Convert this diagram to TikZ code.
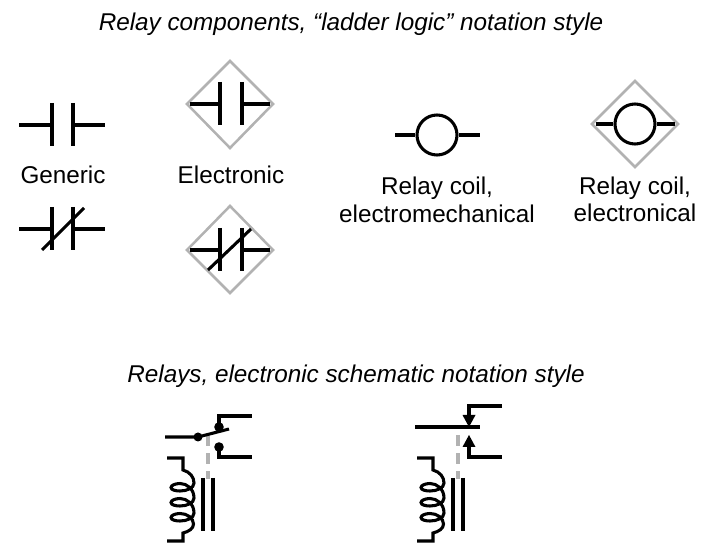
\documentclass[tikz,border=0pt]{standalone}
\usepackage{fontspec}
\setmainfont{Liberation Sans}
\tikzset{
  wire/.style={line width=2.3pt,black},
  diam/.style={line width=1.9pt,draw=black!30,line join=miter},
  ganged/.style={line width=2.3pt,black!30,dash pattern=on 8pt off 5.6pt},
  lbl/.style={font=\fontsize{18.2}{18.2}\selectfont,inner sep=0pt,anchor=base},
  ttl/.style={font=\fontsize{18.2}{18.2}\selectfont\itshape,inner sep=0pt,anchor=base},
  coilpic/.pic={
    \draw[wire,line join=miter] (-41,-31) -- (-25,-31) -- (-25,-19)
      .. controls (-18,-17) and (-14,-12) .. (-14,-6)
      \foreach \d in {0,15} {
        .. controls (-14,-1+\d) and (-21,2+\d) .. (-28,2+\d)
        .. controls (-32,2+\d) and (-37,1+\d) .. (-37,-1.5+\d)
        .. controls (-37,-3.5+\d) and (-33,-5.5+\d) .. (-28,-5.5+\d)
        .. controls (-21,-5.5+\d) and (-14,\d) .. (-14,9+\d)
      }
      .. controls (-14,29) and (-21,32) .. (-28,32)
      .. controls (-32,32) and (-37,31) .. (-37,28.5)
      .. controls (-37,26.5) and (-33,24.5) .. (-28,24.5)
      .. controls (-21,24.5) and (-14.5,29) .. (-14.5,35)
      .. controls (-14.5,39.5) and (-19,42.5) .. (-25,44)
      -- (-25,52) -- (-41,52);
    \draw[wire] (-5,-11) -- (-5,42);
    \draw[wire] (5,-11) -- (5,42);
  }
}
\begin{document}
\begin{tikzpicture}[x=0.75pt,y=-0.75pt]
\useasboundingbox (0,-1) rectangle (711,554);
% titles
\node[ttl] (t1) at (351,30) {Relay components, “ladder logic” notation style};
\node[ttl] (t2) at (356,382) {Relays, electronic schematic notation style};
% generic
\draw[wire] (19,124) -- (52,124) (52,102) -- (52,145) (73,102) -- (73,145) (73,124) -- (105,124);
\node[lbl] (g) at (63,183) {Generic};
\draw[wire] (19,228) -- (52,228) (52,206) -- (52,249) (73,206) -- (73,249) (73,228) -- (105,228);
\draw[wire] (42,249) -- (84,207);
% electronic
\draw[diam] (187,103) -- (230,60) -- (273,103) -- (230,147) -- cycle;
\draw[wire] (190,103) -- (220,103) (220,81) -- (220,124) (242,81) -- (242,124) (242,103) -- (270,103);
\node[lbl] (e) at (231,183) {Electronic};
\draw[diam] (187,249) -- (230,205) -- (273,249) -- (230,292) -- cycle;
\draw[wire] (190,249) -- (220,249) (220,227) -- (220,270) (242,227) -- (242,270) (242,249) -- (270,249);
\draw[wire] (208,269) -- (251,228);
% coil
\node[circle,draw,line width=2.3pt,minimum size=30pt,inner sep=0pt] (c1) at (437,134) {};
\coordinate (c1l) at (395,134);
\coordinate (c1r) at (480,134);
\draw[wire] (c1l) -- (c1.west) (c1.east) -- (c1r);
\node[lbl] (c1a) at (437,194) {Relay coil,};
\node[lbl] (c1b) at (437,222) {electromechanical};
% coil electronic
\draw[diam] (592,123) -- (635,80) -- (678,123) -- (635,166) -- cycle;
\node[circle,draw,line width=2.3pt,minimum size=30pt,inner sep=0pt] (c2) at (635,123) {};
\coordinate (c2l) at (596,123);
\coordinate (c2r) at (675,123);
\draw[wire] (c2l) -- (c2.west) (c2.east) -- (c2r);
\node[lbl] (c2a) at (635,194) {Relay coil,};
\node[lbl] (c2b) at (635,221) {electronical};
% relay 1
\draw[ganged] (208,434) -- (208,478);
\draw[wire] (165,436) -- (198,436) -- (229,428);
\draw[wire] (219,426) -- (219,415) -- (252,415);
\draw[wire] (219,446) -- (219,456) -- (252,456);
\fill (198,436) circle[radius=4.5];
\fill (219,426) circle[radius=4.8];
\fill (219,446) circle[radius=4.8];
\pic at (208,488) {coilpic};
% relay 2
\draw[ganged] (458,434) -- (458,478);
\draw[wire] (415,426) -- (480,426);
\draw[wire] (502,405) -- (469,405) -- (469,416);
\fill (469,426) -- (462.5,414) -- (475.5,414) -- cycle;
\draw[wire] (469,444) -- (469,456) -- (502,456);
\fill (469,434) -- (462.5,446) -- (475.5,446) -- cycle;
\pic at (458,488) {coilpic};
\end{tikzpicture}
\end{document}
